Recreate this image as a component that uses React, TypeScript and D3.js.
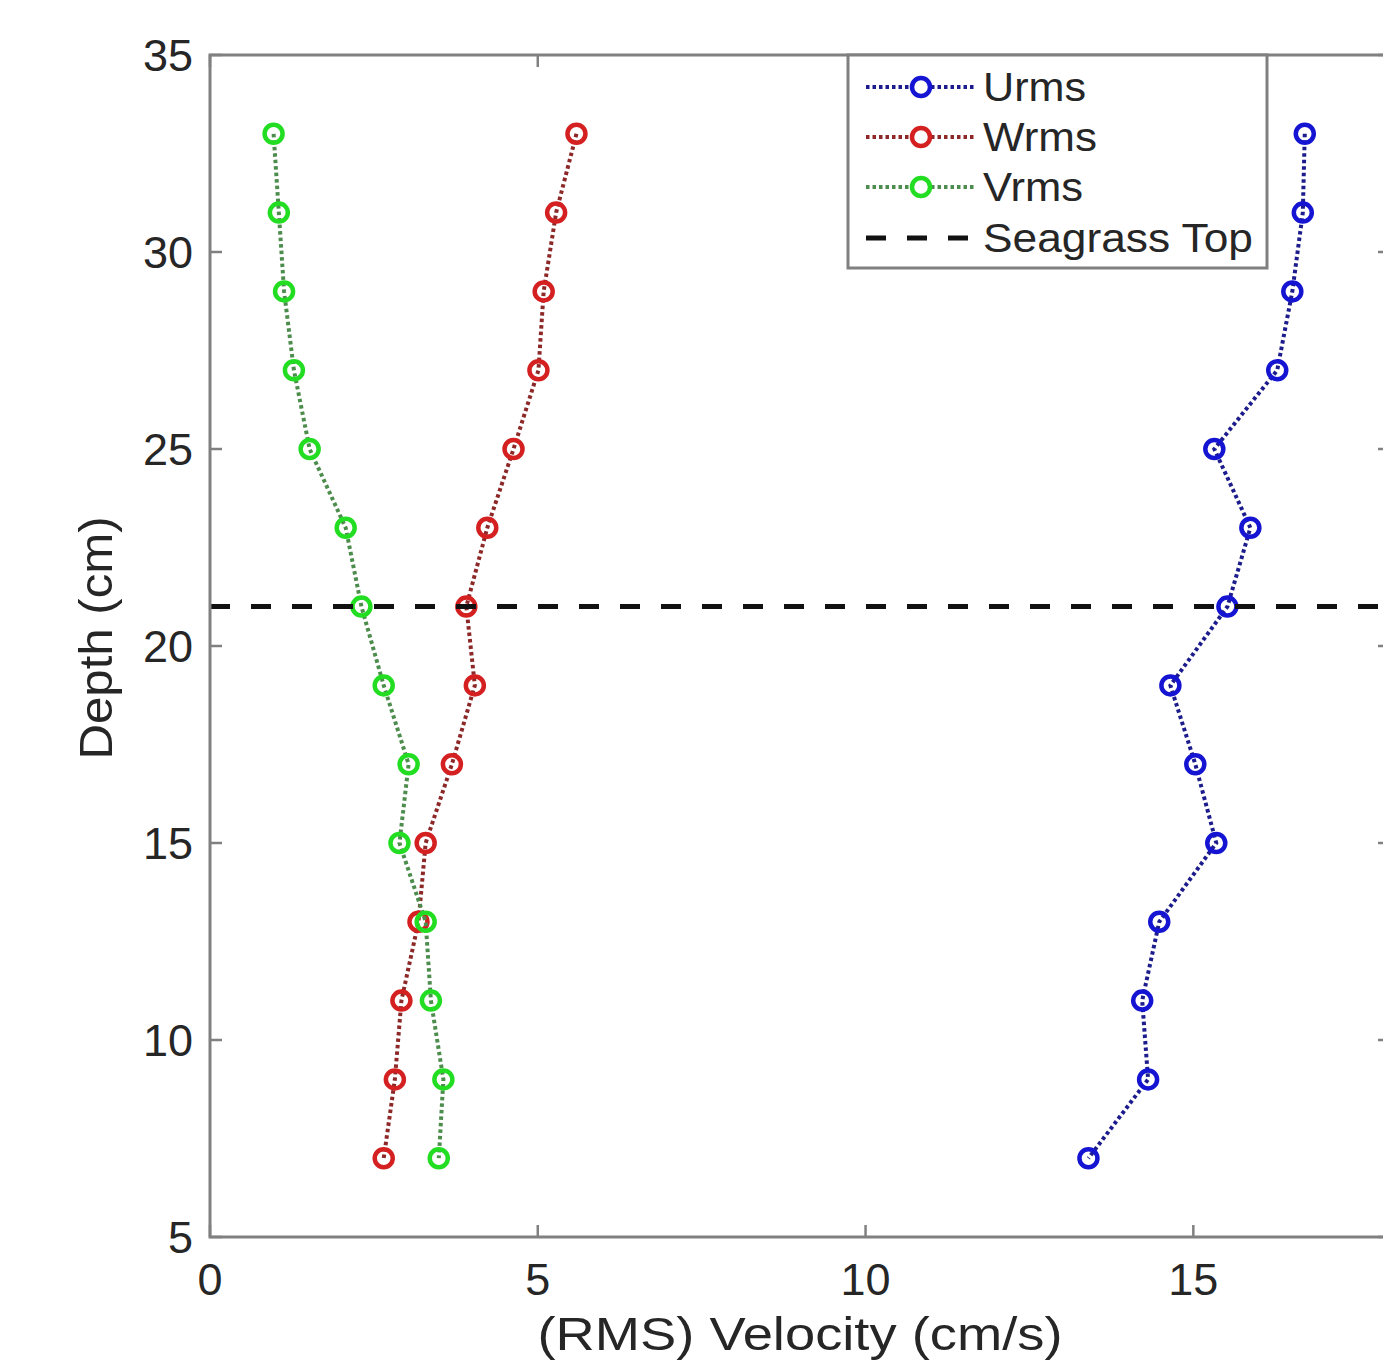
import React from "react"
import { scaleLinear, line } from "d3"

const width = 1383
const height = 1361

const margin = { top: 55, left: 210, bottom: 124 }
const plotRight = 1390

const depths = [33, 31, 29, 27, 25, 23, 21, 19, 17, 15, 13, 11, 9, 7]
const urms = [16.7, 16.67, 16.51, 16.28, 15.32, 15.87, 15.52, 14.65, 15.03, 15.35, 14.48, 14.22, 14.31, 13.4]
const wrms = [5.59, 5.28, 5.09, 5.01, 4.63, 4.23, 3.91, 4.04, 3.69, 3.29, 3.18, 2.92, 2.82, 2.65]
const vrms = [0.97, 1.05, 1.13, 1.28, 1.52, 2.07, 2.31, 2.65, 3.03, 2.89, 3.29, 3.37, 3.56, 3.49]
const seagrassTop = 21

const xTicks = [0, 5, 10, 15]
const yTicks = [5, 10, 15, 20, 25, 30, 35]

const series = [
  { name: "Urms", values: urms, color: "#1414d2", lineColor: "#1c1c8c", labelLen: 103 },
  { name: "Wrms", values: wrms, color: "#d42020", lineColor: "#8c2828", labelLen: 114 },
  { name: "Vrms", values: vrms, color: "#22dd22", lineColor: "#4c8c4c", labelLen: 100 },
]

const axisColor = "#808080"
const textColor = "#262626"
const font = "'Liberation Sans', Arial, sans-serif"

function App() {
  const xScale = scaleLinear().domain([0, 18]).range([margin.left, plotRight])
  const yScale = scaleLinear().domain([5, 35]).range([height - margin.bottom, margin.top])

  const y0 = yScale(5)
  const y1 = yScale(35)
  const tick = 12

  const legendX = 848
  const legendY = 55
  const legendRows = [87, 137, 187, 238]

  return (
    <svg width={width} height={height} style={{ position: "absolute", left: 0, top: 0, background: "#fff" }}>
      {/* series */}
      {series.map(s => {
        const pts = depths.map((d, i) => [xScale(s.values[i]), yScale(d)] as [number, number])
        return (
          <g key={s.name}>
            <path d={line()(pts) || ""} fill="none" stroke={s.lineColor} strokeWidth={4} strokeDasharray="3.5 3" />
            {pts.map((p, i) => (
              <circle key={i} cx={p[0]} cy={p[1]} r={9} fill="none" stroke={s.color} strokeWidth={4.5} />
            ))}
          </g>
        )
      })}

      {/* seagrass top */}
      <line x1={xScale(0)} x2={plotRight} y1={yScale(seagrassTop)} y2={yScale(seagrassTop)}
        stroke="#111" strokeWidth={5} strokeDasharray="20 21" />

      {/* axes box */}
      <rect x={xScale(0)} y={y1} width={plotRight - xScale(0)} height={y0 - y1} fill="none" stroke={axisColor} strokeWidth={3} />
      {xTicks.map(t => (
        <g key={t} transform={`translate(${xScale(t)},0)`}>
          <line y1={y0} y2={y0 - tick} stroke={axisColor} strokeWidth={2.5} />
          <line y1={y1} y2={y1 + tick} stroke={axisColor} strokeWidth={2.5} />
          <text y={1295} textAnchor="middle" fontFamily={font} fontSize={45} fill={textColor}>{t}</text>
        </g>
      ))}
      {yTicks.map(t => (
        <g key={t} transform={`translate(0,${yScale(t)})`}>
          <line x1={xScale(0)} x2={xScale(0) + tick} stroke={axisColor} strokeWidth={2.5} />
          <line x1={plotRight} x2={plotRight - tick} stroke={axisColor} strokeWidth={2.5} />
          <text x={193} dy="0.35em" textAnchor="end" fontFamily={font} fontSize={45} fill={textColor}>{t}</text>
        </g>
      ))}

      {/* axis labels */}
      <text x={(xScale(0) + plotRight) / 2} y={1350} textAnchor="middle" fontFamily={font} fontSize={47} fill={textColor}
        textLength={525} lengthAdjust="spacingAndGlyphs">
        (RMS) Velocity (cm/s)
      </text>
      <text transform={`translate(112,638) rotate(-90)`} textAnchor="middle" fontFamily={font} fontSize={47} fill={textColor}
        textLength={243} lengthAdjust="spacingAndGlyphs">
        Depth (cm)
      </text>

      {/* legend */}
      <g>
        <rect x={legendX} y={legendY} width={419} height={213} fill="#fff" stroke={axisColor} strokeWidth={3} />
        {series.map((s, i) => (
          <g key={s.name} transform={`translate(0,${legendRows[i]})`}>
            <line x1={866} x2={975} stroke={s.lineColor} strokeWidth={4} strokeDasharray="3.5 3" />
            <circle cx={921} r={9} fill="#fff" stroke={s.color} strokeWidth={4.5} />
            <text x={983} dy="0.35em" fontFamily={font} fontSize={40} fill={textColor}
              textLength={s.labelLen} lengthAdjust="spacingAndGlyphs">{s.name}</text>
          </g>
        ))}
        <g transform={`translate(0,${legendRows[3]})`}>
          <line x1={866} x2={975} stroke="#111" strokeWidth={5} strokeDasharray="20 21" />
          <text x={983} dy="0.35em" fontFamily={font} fontSize={40} fill={textColor}
            textLength={270} lengthAdjust="spacingAndGlyphs">Seagrass Top</text>
        </g>
      </g>
    </svg>
  )
}

export default App
